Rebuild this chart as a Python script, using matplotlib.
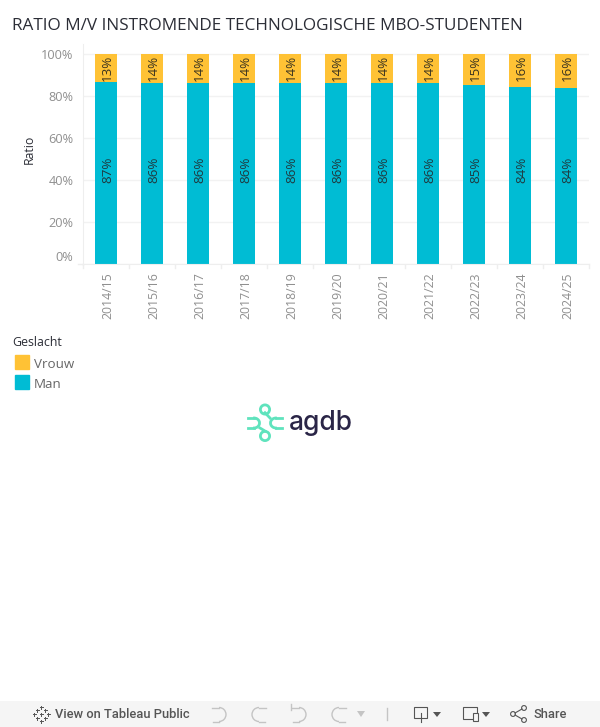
import matplotlib
matplotlib.use("Agg")
import matplotlib.pyplot as plt
import matplotlib.patches as mp
from matplotlib.transforms import ScaledTranslation

plt.rcParams["font.family"] = "Open Sans"

years = ["2014/15", "2015/16", "2016/17", "2017/18", "2018/19", "2019/20",
         "2020/21", "2021/22", "2022/23", "2023/24", "2024/25"]
man = [86.7, 86.3, 86.0, 86.0, 86.0, 86.0, 86.0, 86.2, 85.2, 84.2, 84.0]
vrouw = [13.3, 13.7, 14.0, 14.0, 14.0, 14.0, 14.0, 13.8, 14.8, 15.8, 16.0]
man_labels = ["87%", "86%", "86%", "86%", "86%", "86%", "86%", "86%", "85%", "84%", "84%"]
vrouw_labels = ["13%", "14%", "14%", "14%", "14%", "14%", "14%", "14%", "15%", "16%", "16%"]
yticks = [0, 20, 40, 60, 80, 100]

TEAL = "#00bcd4"
YELLOW = "#ffc235"
GREY = "#8f8f8f"
DARK = "#2b2d36"

W, H = 600, 727
fig = plt.figure(figsize=(W / 100, H / 100), dpi=100)

# overlay in pixel coords for everything outside the plot
bg = fig.add_axes([0, 0, 1, 1])
bg.set_xlim(0, W)
bg.set_ylim(H, 0)
bg.axis("off")

ax = fig.add_axes([83 / W, 1 - 264 / H, 506 / W, 220 / H])
ax.set_xlim(-0.5, 10.5)
ax.set_ylim(0, 100 * 220 / 210)
x = list(range(len(years)))
ax.bar(x, man, width=0.48, color=TEAL, zorder=2)
ax.bar(x, vrouw, width=0.48, bottom=man, color=YELLOW, zorder=2)

nudge = ScaledTranslation(1.5 / 100, 0, fig.dpi_scale_trans)
for i in x:
    ax.text(i, 44.8, man_labels[i], rotation=90, ha="center", va="center", fontsize=9.6, color="#1f3a40",
            zorder=3, transform=ax.transData + nudge)
    ax.text(i, 100 - 0.4, vrouw_labels[i], rotation=90, ha="center", va="top", fontsize=9.6, color="#3a3320",
            zorder=3, transform=ax.transData + nudge)

ax.set_yticks(yticks)
ax.set_yticklabels([f"{v}%" for v in yticks], fontsize=9.2, color=GREY)
ax.set_xticks(x)
ax.set_xticklabels(years, rotation=90, fontsize=8.8, color=GREY)
ax.tick_params(axis="y", length=0, pad=7)
ax.tick_params(axis="x", length=0, pad=6)
for lab in ax.get_xticklabels():
    lab.set_transform(lab.get_transform() + nudge)
ax.get_yticklabels()[0].set_verticalalignment("bottom")
ax.set_ylabel("Ratio", fontsize=8.8, color=DARK)
ax.yaxis.set_label_coords(-47 / 506, 0.52)
ax.grid(axis="y", color="#f2f2f2", lw=1, zorder=0)
for s in ["top", "right"]:
    ax.spines[s].set_visible(False)
ax.spines["left"].set_color("#eeeeee")
ax.spines["bottom"].set_color("#eeeeee")

# little separators under the axis
for i in range(len(years) + 1):
    px = 83 + 46 * i
    bg.plot([px, px], [264, 268], color="#eeeeee", lw=1)
bg.plot([78, 83], [264, 264], color="#eeeeee", lw=1)

bg.text(12, 26.5, "RATIO M/V INSTROMENDE TECHNOLOGISCHE MBO-STUDENTEN", fontsize=12.35,
        color=DARK, va="center", ha="left")

# legend
bg.text(12, 342, "Geslacht", fontsize=8.9, color=DARK, va="center")
bg.add_patch(mp.Rectangle((15, 355), 14, 14, color=YELLOW))
bg.add_patch(mp.Rectangle((15, 375), 14, 14, color=TEAL))
bg.text(34, 364, "Vrouw", fontsize=9.6, color="#666666", va="center")
bg.text(34, 384, "Man", fontsize=9.6, color="#666666", va="center")

# agdb logo
MINT = "#5fe3bd"
for cx, cy, tx, ty in [(265, 409.5, 270, 418), (265, 436, 260, 428)]:
    bg.add_patch(mp.Circle((cx, cy), 4.6, fill=False, ec=MINT, lw=2))
    bg.plot([cx, tx], [(cy + ty) / 2 - 1, ty], color=MINT, lw=2)
bg.add_patch(mp.Arc((254, 423), 11, 10, theta1=-100, theta2=100, ec=MINT, lw=2))
bg.add_patch(mp.Arc((276, 423), 11, 10, theta1=80, theta2=280, ec=MINT, lw=2))
bg.plot([248, 254], [418, 418], color=MINT, lw=2)
bg.plot([248, 254], [428, 428], color=MINT, lw=2)
bg.plot([276, 282], [418, 418], color=MINT, lw=2)
bg.plot([276, 282], [428, 428], color=MINT, lw=2)
bg.text(288.5, 423, "agdb", fontsize=19, color="#2a2547", va="center", family="Inter", weight="medium")

# toolbar
bg.add_patch(mp.Rectangle((0, 701), W, 26, color="#f5f5f5", lw=0))
TB = "#555555"
LIGHT = "#c4c4c4"
bg.text(55, 714, "View on Tableau Public", fontsize=9.3, color=TB, va="center", family="Roboto", weight="medium")
bg.text(533, 714, "Share", fontsize=9.3, color=TB, va="center", family="Roboto", weight="medium")
for dx, dy in [(0, -7), (0, 7), (-7, 0), (7, 0), (-4, -4), (4, -4), (-4, 4), (4, 4), (0, 0)]:
    bg.plot([41 + dx - 1.5, 41 + dx + 1.5], [714 + dy, 714 + dy], color=TB, lw=0.7)
    bg.plot([41 + dx, 41 + dx], [714 + dy - 1.5, 714 + dy + 1.5], color=TB, lw=0.7)
for cx, flip in [(219, 1), (259, -1), (299, 1), (339, -1)]:
    bg.add_patch(mp.Arc((cx, 714.5), 14, 14, theta1=-90 if flip > 0 else 90, theta2=90 if flip > 0 else 270,
                        ec=LIGHT, lw=1))
    bg.plot([cx - 7 * flip, cx], [707.5, 707.5], color=LIGHT, lw=1)
    bg.plot([cx - 6 * flip, cx], [721.5, 721.5], color=LIGHT, lw=1)
bg.plot([291, 291], [704, 710], color=LIGHT, lw=1)
bg.add_patch(mp.Polygon([[357, 711], [365, 711], [361, 717]], color=LIGHT, lw=0))
bg.plot([387, 387], [708, 720], color=LIGHT, lw=1)
bg.add_patch(mp.Rectangle((414, 707), 13, 11, fill=False, ec=TB, lw=0.8))
bg.plot([421, 421], [713, 722], color=TB, lw=0.8)
bg.add_patch(mp.Polygon([[433, 712], [441, 712], [437, 717]], color=TB, lw=0))
bg.add_patch(mp.Rectangle((463, 707), 14, 12, fill=False, ec=TB, lw=0.8))
bg.add_patch(mp.Rectangle((473, 713), 5, 8, fc="#f5f5f5", ec=TB, lw=0.8))
bg.add_patch(mp.Polygon([[482, 712], [490, 712], [486, 717]], color=TB, lw=0))
for cx, cy in [(513, 714), (524, 708), (524, 720)]:
    bg.add_patch(mp.Circle((cx, cy), 2.4, fill=False, ec=TB, lw=0.8))
bg.plot([515, 522], [713, 709], color=TB, lw=0.8)
bg.plot([515, 522], [715, 719], color=TB, lw=0.8)

fig.savefig("out.png", dpi=100)
